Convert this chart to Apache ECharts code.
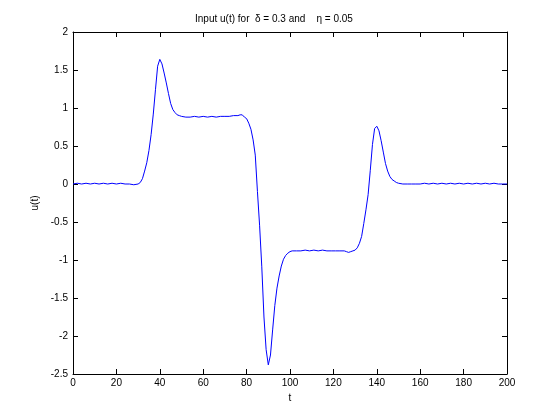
<!DOCTYPE html>
<html>
<head>
<meta charset="utf-8">
<script src="https://cdn.jsdelivr.net/npm/echarts@6/dist/echarts.min.js"></script>
<style>html,body{margin:0;padding:0;background:#fff}#c{width:560px;height:420px}</style>
</head>
<body>
<div id="c"></div>
<script>
// Data
const tValues = [0,2,4,6,8,10,12,14,16,18,20,22,24,26,28,30,31,32,33,34,35,36,37,38,39,40,41,42,43,44,45,46,47,48,49,50,52,54,56,58,60,62,64,66,68,70,72,74,76,77,78,79,80,81,82,83,84,85,86,87,88,89,90,91,92,93,94,95,96,97,98,99,100,101,103,105,107,109,111,113,115,117,119,121,123,125,126,127,128,129,130,131,132,133,134,135,136,137,138,139,140,141,142,143,144,145,146,147,148,149,150,152,154,156,158,160,162,164,166,168,170,172,174,176,178,180,182,184,186,188,190,192,194,196,198,200];
const uValues = [0.00,0.01,0.00,0.01,0.00,0.01,0.00,0.01,0.00,0.01,0.00,0.01,0.00,0.00,-0.01,0.00,0.02,0.07,0.17,0.28,0.44,0.65,0.92,1.24,1.55,1.64,1.58,1.46,1.33,1.19,1.06,0.98,0.94,0.91,0.90,0.89,0.88,0.88,0.89,0.88,0.89,0.88,0.89,0.88,0.89,0.89,0.89,0.90,0.90,0.91,0.91,0.88,0.86,0.80,0.72,0.58,0.38,-0.10,-0.55,-1.09,-1.75,-2.18,-2.38,-2.25,-1.92,-1.60,-1.37,-1.21,-1.08,-0.99,-0.94,-0.91,-0.89,-0.88,-0.88,-0.88,-0.87,-0.88,-0.87,-0.88,-0.87,-0.88,-0.88,-0.88,-0.88,-0.88,-0.89,-0.90,-0.89,-0.88,-0.87,-0.84,-0.78,-0.69,-0.52,-0.34,-0.14,0.18,0.52,0.73,0.76,0.70,0.57,0.42,0.27,0.17,0.10,0.06,0.04,0.02,0.01,0.00,0.00,0.00,0.00,0.00,0.01,0.00,0.01,0.00,0.01,0.00,0.01,0.00,0.01,0.00,0.01,0.00,0.01,0.00,0.01,0.00,0.01,0.00,0.00,0.00];
const xTickStep = 20;
const yTickStep = 0.5;
const titleText = 'Input u(t) for  \u03b4 = 0.3 and    \u03b7 = 0.05';
const xLabel = 't';
const yLabel = 'u(t)';

const points = tValues.map((t, i) => [t, uValues[i]]);
const font = 'Liberation Sans, Arial, sans-serif';
const chart = echarts.init(document.getElementById('c'), null, {renderer: 'canvas'});
const tickIn = {show: true, inside: true, length: 5, lineStyle: {color: '#000', width: 1}};
chart.setOption({
  animation: false,
  backgroundColor: '#fff',
  title: {
    text: titleText, left: 190, top: 9,
    textStyle: {fontFamily: font, fontSize: 10, fontWeight: 'normal', color: '#000'}
  },
  grid: {left: 73, right: 53, top: 32, bottom: 46, show: false},
  xAxis: [{
    type: 'value', min: 0, max: 200, interval: xTickStep, position: 'bottom',
    name: xLabel, nameLocation: 'middle', nameGap: 19,
    nameTextStyle: {fontFamily: font, fontSize: 10, color: '#000'},
    axisLine: {show: true, onZero: false, lineStyle: {color: '#000', width: 1}},
    axisTick: tickIn,
    axisLabel: {margin: 4, fontFamily: font, fontSize: 10, color: '#000'},
    splitLine: {show: false}
  }, {
    type: 'value', min: 0, max: 200, interval: xTickStep, position: 'top',
    axisLine: {show: true, onZero: false, lineStyle: {color: '#000', width: 1}},
    axisTick: tickIn, axisLabel: {show: false}, splitLine: {show: false}
  }],
  yAxis: [{
    type: 'value', min: -2.5, max: 2, interval: yTickStep, position: 'left',
    name: yLabel, nameLocation: 'middle', nameGap: 26, nameRotate: 90,
    nameTextStyle: {fontFamily: font, fontSize: 10, color: '#000'},
    axisLine: {show: true, onZero: false, lineStyle: {color: '#000', width: 1}},
    axisTick: tickIn,
    axisLabel: {margin: 5, fontFamily: font, fontSize: 10, color: '#000'},
    splitLine: {show: false}
  }, {
    type: 'value', min: -2.5, max: 2, interval: yTickStep, position: 'right',
    axisLine: {show: true, onZero: false, lineStyle: {color: '#000', width: 1}},
    axisTick: tickIn, axisLabel: {show: false}, splitLine: {show: false}
  }],
  series: [{
    type: 'line', data: points, xAxisIndex: 0, yAxisIndex: 0,
    showSymbol: false, symbol: 'none',
    lineStyle: {color: '#0000ff', width: 1}
  }]
});
</script>
</body>
</html>
